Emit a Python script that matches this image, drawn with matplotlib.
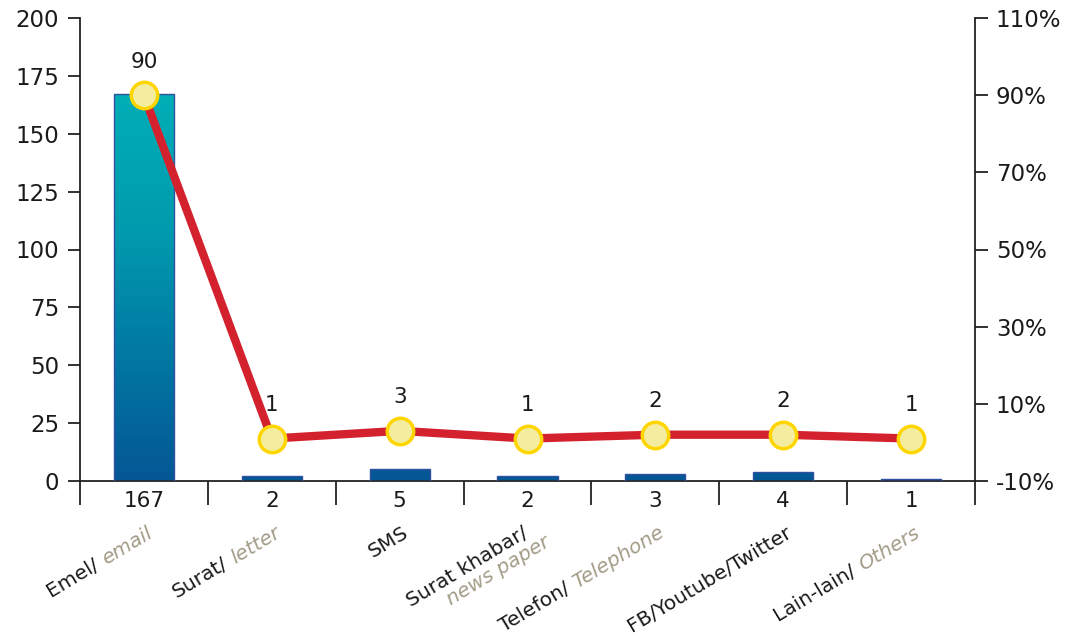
import numpy as np
import matplotlib
matplotlib.use("Agg")
import matplotlib.pyplot as plt
from matplotlib.colors import LinearSegmentedColormap
from matplotlib.patches import Rectangle
from matplotlib.transforms import IdentityTransform

# ---- data ----
labels_ms = ["Emel/", "Surat/", "SMS", "Surat khabar/", "Telefon/", "FB/Youtube/Twitter", "Lain-lain/"]
labels_en = ["email", "letter", "", "news paper", "Telephone", "", "Others"]
counts = [167, 2, 5, 2, 3, 4, 1]
percents = [90, 1, 3, 1, 2, 2, 1]
left_ticks = [0, 25, 50, 75, 100, 125, 150, 175, 200]
right_ticks = [-10, 10, 30, 50, 70, 90, 110]

FONT = "DejaVu Sans"
FS = 14.5       # category and count labels
FS_TICK = 16.5  # axis tick labels
FS_PCT = 15.5   # percentage labels
plt.rcParams["font.family"] = [FONT]

fig = plt.figure(figsize=(10.67, 6.39), dpi=100)
ax = fig.add_axes([80 / 1067, 1 - 481 / 639, (975 - 80) / 1067, (481 - 18) / 639])

n = len(counts)
x = np.arange(n)

# bars filled with a vertical gradient tied to the value scale
cmap = LinearSegmentedColormap.from_list(
    "bar", [(0.0, "#055795"), (0.35, "#017BA4"), (0.65, "#009BAE"), (1.0, "#00AEB6")])
bar_w = 0.47
vmax = max(counts)
for xi, c in zip(x, counts):
    rect = Rectangle((xi - bar_w / 2, 0), bar_w, c, facecolor="none",
                     edgecolor="#3050A0", linewidth=1.0, zorder=3)
    ax.add_patch(rect)
    img = ax.imshow(np.linspace(0, c / vmax, 256).reshape(-1, 1), cmap=cmap, vmin=0, vmax=1,
                    extent=(xi - bar_w / 2, xi + bar_w / 2, 0, c), origin="lower",
                    aspect="auto", zorder=2)
    img.set_clip_path(rect)
ax.set_xlim(-0.5, n - 0.5)
ax.set_ylim(0, 200)

# left axis styling
ax.spines["top"].set_visible(False)
ax.spines["right"].set_visible(False)
for s in ["left", "bottom"]:
    ax.spines[s].set_linewidth(1.3)
    ax.spines[s].set_color("#222222")
ax.set_yticks(left_ticks)
ax.set_yticklabels([str(t) for t in left_ticks], fontsize=FS_TICK, color="#1a1a1a")
ax.tick_params(axis="y", direction="out", length=9, width=1.3, pad=6, color="#222222")
ax.set_xticks(np.arange(-0.5, n, 1.0))
ax.set_xticklabels([])
ax.tick_params(axis="x", direction="out", length=17, width=1.3, color="#222222")

# right axis with percentages
ax2 = ax.twinx()
ax2.set_ylim(-10, 110)
ax2.set_yticks(right_ticks)
ax2.set_yticklabels([f"{t}%" for t in right_ticks], fontsize=FS_TICK, color="#1a1a1a")
ax2.tick_params(axis="y", direction="out", length=9, width=1.3, pad=6, color="#222222")
for s in ["top", "left", "bottom"]:
    ax2.spines[s].set_visible(False)
ax2.spines["right"].set_linewidth(1.3)
ax2.spines["right"].set_color("#222222")

ax2.plot(x, percents, color="#D3222D", linewidth=6, solid_capstyle="round", zorder=4)
ax2.plot(x, percents, linestyle="none", marker="o", markersize=19,
         markerfacecolor="#F4EDA0", markeredgecolor="#FFD500", markeredgewidth=2.5, zorder=5)
for xi, p in zip(x, percents):
    ax2.annotate(str(p), (xi, p), xytext=(0, 17), textcoords="offset points",
                 ha="center", va="bottom", fontsize=FS_PCT, color="#1a1a1a")

# counts under each category
for xi, c in zip(x, counts):
    ax.annotate(str(c), (xi, 0), xytext=(0, -7), textcoords="offset points",
                ha="center", va="top", fontsize=FS_PCT, color="#1a1a1a")

# rotated two-colour category labels
renderer = fig.canvas.get_renderer()


def text_w(s, **kw):
    t = fig.text(0, 0, s, fontsize=FS, **kw)
    w = t.get_window_extent(renderer).width
    t.remove()
    return w


ang = 31
ca, sa = np.cos(np.radians(ang)), np.sin(np.radians(ang))
space_w = text_w("a a") - text_w("aa")
grey = "#A39C88"
line_h = 19

for xi, ms, en in zip(x, labels_ms, labels_en):
    px, py = ax.transData.transform((xi, 0))
    ex, ey = px + 2, py - 42  # top-right corner of the label
    kw = dict(rotation=ang, rotation_mode="anchor", va="top", fontsize=FS,
              transform=IdentityTransform())
    if ms.startswith("Surat khabar"):
        fig.text(ex - 8, ey, ms, ha="right", color="#1a1a1a", **kw)
        gx = ex - 8 + 14 * ca + line_h * sa
        gy = ey + 14 * sa - line_h * ca
        fig.text(gx, gy, en, ha="right", color=grey, style="italic", **kw)
        continue
    if not en:
        fig.text(ex, ey, ms, ha="right", color="#1a1a1a", **kw)
        continue
    w1 = text_w(ms)
    w2 = text_w(en, style="italic")
    W = w1 + space_w + w2
    sx, sy = ex - W * ca, ey - W * sa
    fig.text(sx, sy, ms, ha="left", color="#1a1a1a", **kw)
    fig.text(ex, ey, en, ha="right", color=grey, style="italic", **kw)

fig.savefig("out.png", dpi=100)
